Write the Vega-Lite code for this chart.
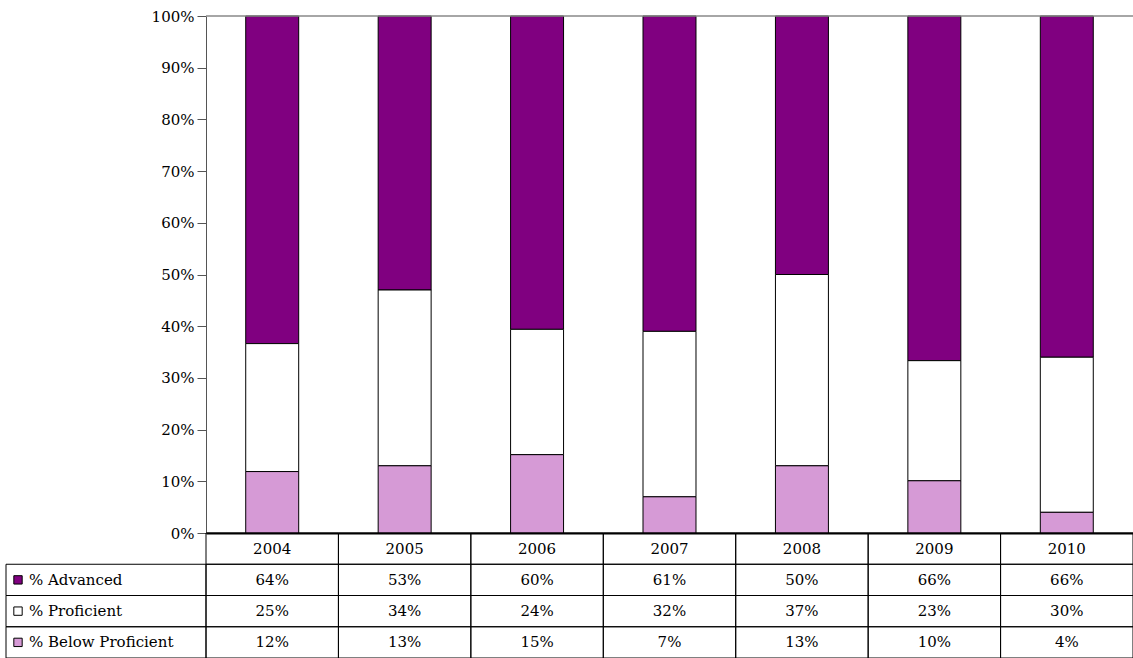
{
  "$schema": "https://vega.github.io/schema/vega-lite/v6.json",
  "padding": {"left": 5, "top": 9, "right": 0, "bottom": 0},
  "background": "white",
  "config": {
    "view": {"stroke": null},
    "axis": {"labelFont": "DejaVu Serif", "labelFontSize": 15, "labelColor": "black"},
    "text": {"font": "DejaVu Serif", "fontSize": 15, "color": "black"}
  },
  "datasets": {
    "scores": [
      {"year": "2004", "level": "% Advanced", "share": 0.64},
      {"year": "2004", "level": "% Proficient", "share": 0.25},
      {"year": "2004", "level": "% Below Proficient", "share": 0.12},
      {"year": "2005", "level": "% Advanced", "share": 0.53},
      {"year": "2005", "level": "% Proficient", "share": 0.34},
      {"year": "2005", "level": "% Below Proficient", "share": 0.13},
      {"year": "2006", "level": "% Advanced", "share": 0.60},
      {"year": "2006", "level": "% Proficient", "share": 0.24},
      {"year": "2006", "level": "% Below Proficient", "share": 0.15},
      {"year": "2007", "level": "% Advanced", "share": 0.61},
      {"year": "2007", "level": "% Proficient", "share": 0.32},
      {"year": "2007", "level": "% Below Proficient", "share": 0.07},
      {"year": "2008", "level": "% Advanced", "share": 0.50},
      {"year": "2008", "level": "% Proficient", "share": 0.37},
      {"year": "2008", "level": "% Below Proficient", "share": 0.13},
      {"year": "2009", "level": "% Advanced", "share": 0.66},
      {"year": "2009", "level": "% Proficient", "share": 0.23},
      {"year": "2009", "level": "% Below Proficient", "share": 0.10},
      {"year": "2010", "level": "% Advanced", "share": 0.66},
      {"year": "2010", "level": "% Proficient", "share": 0.30},
      {"year": "2010", "level": "% Below Proficient", "share": 0.04}
    ],
    "levels": [
      {"level": "% Advanced"},
      {"level": "% Proficient"},
      {"level": "% Below Proficient"}
    ],
    "none": []
  },
  "columns": 2,
  "spacing": 0,
  "bounds": "flush",
  "align": "each",
  "concat": [
    {
      "data": {"name": "none"},
      "width": 200,
      "height": 517,
      "mark": "text"
    },
    {
      "data": {"name": "scores"},
      "width": 927,
      "height": 517,
      "layer": [
        {
          "transform": [
            {"calculate": "indexof(['% Below Proficient', '% Proficient', '% Advanced'], datum.level)", "as": "stackOrder"}
          ],
          "mark": {"type": "bar", "stroke": "black", "strokeWidth": 1},
          "encoding": {
            "x": {
              "field": "year", "type": "nominal",
              "scale": {"paddingInner": 0.6, "paddingOuter": 0.3},
              "axis": {"title": null, "labels": false, "ticks": false, "domainColor": "black", "domainWidth": 2}
            },
            "y": {
              "field": "share", "type": "quantitative", "stack": "normalize",
              "scale": {"domain": [0, 1]},
              "axis": {
                "title": null, "format": ".0%",
                "values": [0, 0.1, 0.2, 0.3, 0.4, 0.5, 0.6, 0.7, 0.8, 0.9, 1],
                "grid": false, "domainColor": "#555555", "tickColor": "#555555",
                "tickSize": 9, "labelPadding": 3
              }
            },
            "color": {
              "field": "level", "type": "nominal",
              "scale": {
                "domain": ["% Below Proficient", "% Proficient", "% Advanced"],
                "range": ["#d69ad6", "#ffffff", "#800080"]
              },
              "legend": null
            },
            "order": {"field": "stackOrder", "type": "quantitative", "sort": "ascending"}
          }
        },
        {
          "data": {"values": [{"top": 1}]},
          "mark": {"type": "rule", "color": "#888888", "strokeWidth": 1.5},
          "encoding": {"y": {"field": "top", "type": "quantitative"}}
        }
      ]
    },
    {
      "data": {"name": "levels"},
      "width": 200,
      "height": 125,
      "encoding": {
        "y": {
          "field": "level", "type": "nominal",
          "scale": {"domain": ["Year", "% Advanced", "% Proficient", "% Below Proficient"], "paddingInner": 0, "paddingOuter": 0},
          "axis": null
        }
      },
      "layer": [
        {
          "mark": {"type": "rect", "fill": "transparent", "stroke": "black", "strokeWidth": 1}
        },
        {
          "mark": {"type": "point", "shape": "square", "filled": true, "size": 70, "stroke": "black", "strokeWidth": 1, "opacity": 1},
          "encoding": {
            "x": {"datum": 6, "type": "quantitative", "scale": {"domain": [0, 100]}, "axis": null},
            "fill": {
              "field": "level", "type": "nominal",
              "scale": {
                "domain": ["% Below Proficient", "% Proficient", "% Advanced"],
                "range": ["#d69ad6", "#ffffff", "#800080"]
              },
              "legend": null
            }
          }
        },
        {
          "mark": {"type": "text", "align": "left", "baseline": "middle"},
          "encoding": {
            "x": {"datum": 11.5, "type": "quantitative", "scale": {"domain": [0, 100]}, "axis": null},
            "text": {"field": "level"}
          }
        }
      ]
    },
    {
      "data": {"name": "scores"},
      "width": 927,
      "height": 125,
      "encoding": {
        "x": {"field": "year", "type": "nominal", "scale": {"paddingInner": 0, "paddingOuter": 0}, "axis": null}
      },
      "layer": [
        {
          "transform": [{"filter": "datum.level === '% Advanced'"}],
          "mark": {"type": "rect", "fill": "transparent", "stroke": "black", "strokeWidth": 1},
          "encoding": {
            "y": {"datum": "Year", "type": "nominal", "scale": {"domain": ["Year", "% Advanced", "% Proficient", "% Below Proficient"], "paddingInner": 0, "paddingOuter": 0}, "axis": null}
          }
        },
        {
          "transform": [{"filter": "datum.level === '% Advanced'"}],
          "mark": {"type": "text", "baseline": "middle"},
          "encoding": {
            "y": {"datum": "Year", "type": "nominal"},
            "text": {"field": "year"}
          }
        },
        {
          "mark": {"type": "rect", "fill": "transparent", "stroke": "black", "strokeWidth": 1},
          "encoding": {
            "y": {"field": "level", "type": "nominal"}
          }
        },
        {
          "mark": {"type": "text", "baseline": "middle"},
          "encoding": {
            "y": {"field": "level", "type": "nominal"},
            "text": {"field": "share", "type": "quantitative", "format": ".0%"}
          }
        }
      ]
    }
  ]
}
